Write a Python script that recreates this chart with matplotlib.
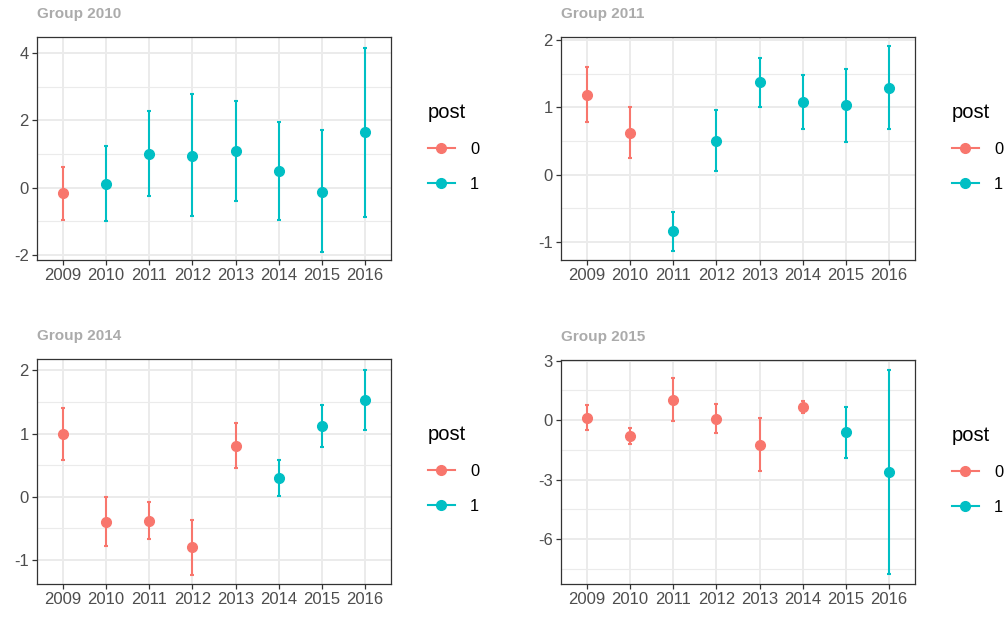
import matplotlib
matplotlib.use("Agg")
import matplotlib.pyplot as plt
from matplotlib.lines import Line2D
from matplotlib.ticker import FixedLocator

plt.rcParams["font.family"] = ["Liberation Sans", "DejaVu Sans"]

years = ["2009", "2010", "2011", "2012", "2013", "2014", "2015", "2016"]

# Group 2010
est_2010 = [-0.17, 0.11, 1.00, 0.95, 1.08, 0.48, -0.12, 1.64]
lo_2010 = [-0.96, -0.98, -0.25, -0.85, -0.39, -0.96, -1.91, -0.88]
hi_2010 = [0.61, 1.22, 2.28, 2.78, 2.56, 1.95, 1.70, 4.15]
post_2010 = [0, 1, 1, 1, 1, 1, 1, 1]

# Group 2011
est_2011 = [1.18, 0.62, -0.84, 0.50, 1.37, 1.08, 1.03, 1.29]
lo_2011 = [0.78, 0.25, -1.13, 0.06, 1.00, 0.68, 0.49, 0.67]
hi_2011 = [1.60, 1.00, -0.55, 0.955, 1.74, 1.475, 1.57, 1.91]
post_2011 = [0, 0, 1, 1, 1, 1, 1, 1]

# Group 2014
est_2014 = [0.99, -0.39, -0.375, -0.80, 0.81, 0.30, 1.12, 1.53]
lo_2014 = [0.59, -0.77, -0.67, -1.23, 0.46, 0.02, 0.79, 1.05]
hi_2014 = [1.405, 0.00, -0.085, -0.365, 1.17, 0.585, 1.46, 2.01]
post_2014 = [0, 0, 0, 0, 0, 1, 1, 1]

# Group 2015
est_2015 = [0.08, -0.82, 1.03, 0.05, -1.26, 0.66, -0.62, -2.62]
lo_2015 = [-0.52, -1.23, -0.03, -0.66, -2.57, 0.35, -1.90, -7.79]
hi_2015 = [0.74, -0.40, 2.12, 0.82, 0.08, 0.98, 0.67, 2.52]
post_2015 = [0, 0, 0, 0, 0, 0, 1, 1]

colors = {0: "#F8766D", 1: "#00BFC4"}

W, H = 1007, 617
fig = plt.figure(figsize=(W / 100, H / 100), dpi=100)


def px_axes(x0, y0, x1, y1):
    return fig.add_axes([x0 / W, 1 - y1 / H, (x1 - x0) / W, (y1 - y0) / H])


panels = [
    ("Group 2010", est_2010, lo_2010, hi_2010, post_2010, (37, 37, 391, 260),
     (-2.15, 4.47), [-2, 0, 2, 4], [-1, 1, 3]),
    ("Group 2011", est_2011, lo_2011, hi_2011, post_2011, (561, 37, 915, 260),
     (-1.27, 2.045), [-1, 0, 1, 2], [-0.5, 0.5, 1.5]),
    ("Group 2014", est_2014, lo_2014, hi_2014, post_2014, (37, 359, 391, 583.5),
     (-1.37, 2.18), [-1, 0, 1, 2], [-0.5, 0.5, 1.5]),
    ("Group 2015", est_2015, lo_2015, hi_2015, post_2015, (561, 360, 915, 584),
     (-8.27, 3.03), [-6, -3, 0, 3], [-7.5, -4.5, -1.5, 1.5]),
]

for title, est, lo, hi, post, box, ylim, yt, ymt in panels:
    ax = px_axes(*box)
    xs = list(range(len(years)))
    for g in (0, 1):
        idx = [i for i, p in enumerate(post) if p == g]
        if not idx:
            continue
        gx = [xs[i] for i in idx]
        ge = [est[i] for i in idx]
        err = [[est[i] - lo[i] for i in idx], [hi[i] - est[i] for i in idx]]
        ax.errorbar(gx, ge, yerr=err, fmt="o", color=colors[g], ecolor=colors[g],
                    elinewidth=1.5, capsize=1.6, capthick=1.5, markersize=7.0,
                    zorder=3)
    ax.set_xlim(-0.6, len(years) - 0.4)
    ax.set_ylim(*ylim)
    ax.set_xticks(xs)
    ax.set_xticklabels(years)
    ax.set_yticks(yt)
    ax.set_yticklabels([f"{v:g}" for v in yt])
    ax.yaxis.set_minor_locator(FixedLocator(ymt))
    ax.grid(True, which="major", color="#EBEBEB", linewidth=1.4, zorder=0)
    ax.grid(True, which="minor", axis="y", color="#EBEBEB", linewidth=0.8, zorder=0)
    ax.set_axisbelow(True)
    ax.tick_params(axis="both", which="major", length=3.5, width=0.9,
                   color="#333333", labelcolor="#4D4D4D", labelsize=12, pad=2.5)
    ax.tick_params(axis="y", which="minor", length=0)
    for s in ax.spines.values():
        s.set_color("#333333")
        s.set_linewidth(0.9)
    ax.text(0, 1.0 + 23 / (box[3] - box[1]), title, transform=ax.transAxes,
            fontsize=11, fontweight="bold", color="#ABABAB",
            ha="left", va="center")

    handles = [Line2D([0], [0], color=colors[g], marker="o", markersize=7.0,
                      linewidth=1.5) for g in (0, 1)]
    leg = ax.legend(handles, ["0", "1"], title="post", loc="upper left",
                    bbox_to_anchor=(1 + 30 / (box[2] - box[0]), 0.735),
                    frameon=False, fontsize=11.8, title_fontsize=14.5,
                    handlelength=1.65, handletextpad=0.95, labelspacing=1.22,
                    borderaxespad=0.0)
    leg._legend_box.align = "left"

fig.savefig("out.png", dpi=100, facecolor="white")
